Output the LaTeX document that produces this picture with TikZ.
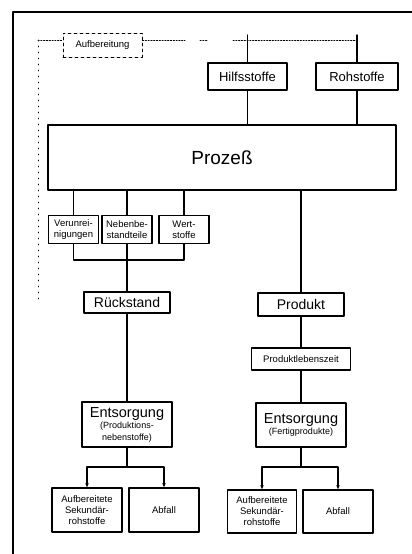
\documentclass[tikz,border=0pt]{standalone}
\usepackage{fontspec}
\setmainfont{Liberation Sans}
\usetikzlibrary{arrows.meta}
\tikzset{
  hop/.style={draw, line width=1.7pt, align=center, inner sep=1pt},
  nho/.style={hop, font=\fontsize{9.5}{11}\selectfont},
  vua/.style={hop, font=\fontsize{13}{15}\selectfont},
  chamcham/.style={line width=0.9pt, dash pattern=on 1.2pt off 1.6pt},
}
\begin{document}
\begin{tikzpicture}[x=1pt, y=-1pt, line join=round, line cap=round, >={Stealth[length=4pt,width=3.5pt]}, line width=1.5pt]
	\useasboundingbox (0,0) rectangle (412,554);
	\draw[line width=2.2pt] (13,558) -- (13,12) -- (416,12); % khung
	% hang tren
	\node[hop, dashed, line width=0.9pt, font=\fontsize{9.5}{11}\selectfont, minimum width=79pt, minimum height=24pt] (auf) at (102.5,45) {Aufbereitung};
	\node[vua, minimum width=79pt, minimum height=27pt] (hilf) at (247.5,76.5) {Hilfsstoffe};
	\node[vua, minimum width=82pt, minimum height=27pt] (roh) at (357,76.5) {Rohstoffe};
	\node[hop, font=\fontsize{19}{22}\selectfont, minimum width=348pt, minimum height=65pt] (proz) at (222,157.5) {Prozeß};
	\coordinate (d0) at (38,40); \coordinate (d1) at (38,302);
	\coordinate (h0) at (247.5,35); \coordinate (r0) at (357,35);
	\draw[chamcham] (d0) -- (d0 -| auf.west);
	\draw[line width=0.9pt, dash pattern=on 1pt off 5pt] (d0) -- (d1);
	\draw[chamcham] (d0 -| auf.east) -- (185,40) (200,40) -- (208,40) (233,40) -- (357,40);
	\draw (h0) -- (hilf) -- (hilf |- proz.north);
	\draw (r0) -- (roh) -- (roh |- proz.north);
	% cot trai
	\foreach \x/\ten/\chu in {73.5/ver/Verunrei-\\nigungen, 127/neb/Nebenbe-\\standteile, 184/wert/Wert-\\stoffe}{
		\node[nho, minimum width=50pt, minimum height=28pt] (\ten) at (\x,229.5) {\chu};
		\draw (\ten) -- (\ten |- proz.south);
	}
	\coordinate (j0) at (127,260);
	\draw (ver.south) |- (j0) -| (wert.south);
	\node[vua, font=\fontsize{14}{16}\selectfont, minimum width=86pt, minimum height=21pt] (rueck) at (127,302.5) {Rückstand};
	\node[hop, minimum width=90pt, minimum height=45pt] (ent1) at (127,424.5) {\fontsize{14.5}{16}\selectfont Entsorgung\\[-1pt] \fontsize{9}{10}\selectfont (Produktions-\\ \fontsize{9}{10}\selectfont nebenstoffe)};
	\draw (neb) -- (rueck) -- (ent1);
	\node[nho, minimum width=70pt, minimum height=44pt] (aufs1) at (87,510) {Aufbereitete\\Sekundär-\\rohstoffe};
	\node[nho, minimum width=70pt, minimum height=44pt] (abf1) at (164,510) {Abfall};
	\coordinate (j1) at (127,467);
	\draw (ent1) -- (j1);
	\draw[->] (j1) -| (aufs1);
	\draw[->] (j1) -| (abf1);
	% cot phai
	\node[vua, font=\fontsize{14}{16}\selectfont, minimum width=86pt, minimum height=23pt] (prod) at (301,304.5) {Produkt};
	\node[nho, minimum width=99pt, minimum height=22pt] (leb) at (301,359) {Produktlebenszeit};
	\node[hop, minimum width=90pt, minimum height=44pt] (ent2) at (301,425) {\fontsize{14.5}{16}\selectfont Entsorgung\\[-1pt] \fontsize{9}{10}\selectfont (Fertigprodukte)};
	\draw (prod |- proz.south) -- (prod) -- (leb) -- (ent2);
	\node[nho, minimum width=69pt, minimum height=43pt] (aufs2) at (262,511.5) {Aufbereitete\\Sekundär-\\rohstoffe};
	\node[nho, minimum width=70pt, minimum height=43pt] (abf2) at (338,511.5) {Abfall};
	\coordinate (j2) at (301,467);
	\draw (ent2) -- (j2);
	\draw[->] (j2) -| (aufs2);
	\draw[->] (j2) -| (abf2);
\end{tikzpicture}
\end{document}
